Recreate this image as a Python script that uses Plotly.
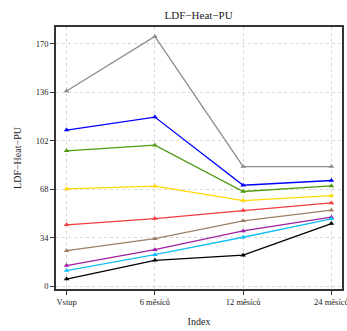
import plotly.graph_objects as go

categories = ["Vstup", "6 měsíců", "12 měsíců", "24 měsíců"]
x_pos = [1, 2, 3, 4]

series_names = ["gray", "blue", "green", "yellow", "red", "brown", "purple", "cyan", "black"]
series_colors = ["#8c8c8c", "#0000ff", "#4f9a0f", "#ffd700", "#f23c3c", "#9c7f62", "#a020a0", "#12bff5", "#000000"]
gray_vals   = [136.8, 175.1, 83.8, 83.8]
blue_vals   = [109.4, 118.5, 70.7, 74.0]
green_vals  = [94.8, 98.8, 66.3, 70.2]
yellow_vals = [68.1, 70.0, 59.9, 63.4]
red_vals    = [42.9, 47.3, 52.9, 58.3]
brown_vals  = [24.8, 33.2, 45.7, 53.2]
purple_vals = [14.3, 25.5, 38.6, 48.3]
cyan_vals   = [10.8, 22.0, 34.2, 47.1]
black_vals  = [4.9, 18.0, 21.6, 43.8]
all_vals = [gray_vals, blue_vals, green_vals, yellow_vals, red_vals,
            brown_vals, purple_vals, cyan_vals, black_vals]

y_ticks = [0, 34, 68, 102, 136, 170]

fig = go.Figure()
for name, col, vals in zip(series_names, series_colors, all_vals):
    fig.add_trace(go.Scatter(
        x=x_pos, y=vals, mode="lines+markers", name=name,
        line=dict(color=col, width=1.3),
        marker=dict(symbol="triangle-up", size=5, color=col),
        showlegend=False))

font = "Liberation Serif, Times New Roman, serif"
W, H = 347, 331
fig.update_layout(
    width=W, height=H,
    margin=dict(l=55.5, r=5.3, t=27.3, b=42, autoexpand=False),
    paper_bgcolor="white", plot_bgcolor="white",
    font=dict(family=font, size=8.5, color="#222"),
    title=dict(text="LDF−Heat−PU", x=198.6 / W, xanchor="center",
               y=1 - 15 / H, yanchor="middle",
               font=dict(size=11, family=font, color="#222")),
    xaxis=dict(range=[0.88, 4.12], tickvals=x_pos, ticktext=categories,
               showline=True, mirror=True, linecolor="#333", linewidth=1.7,
               ticks="outside", ticklen=4, tickcolor="#333",
               ticklabeloverflow="allow",
               showgrid=True, gridcolor="#d8d8d8", griddash="dot", gridwidth=1,
               zeroline=False, tickfont=dict(size=8.5, family=font),
               title=dict(text="Index", font=dict(size=10, family=font), standoff=12)),
    yaxis=dict(range=[-2.1, 181.7], tickvals=y_ticks,
               showline=True, mirror=True, linecolor="#333", linewidth=1.7,
               ticks="outside", ticklen=4, tickcolor="#333",
               showgrid=True, gridcolor="#d8d8d8", griddash="dot", gridwidth=1,
               zeroline=False, tickfont=dict(size=8.5, family=font),
               title=dict(text="LDF−Heat−PU", font=dict(size=10, family=font), standoff=12)),
)
fig.write_html(
    "out.html",
    config={"displayModeBar": False},
    post_script="document.body.style.margin='0';"
                "document.documentElement.style.overflow='hidden';"
                "document.body.style.overflow='hidden';",
)
